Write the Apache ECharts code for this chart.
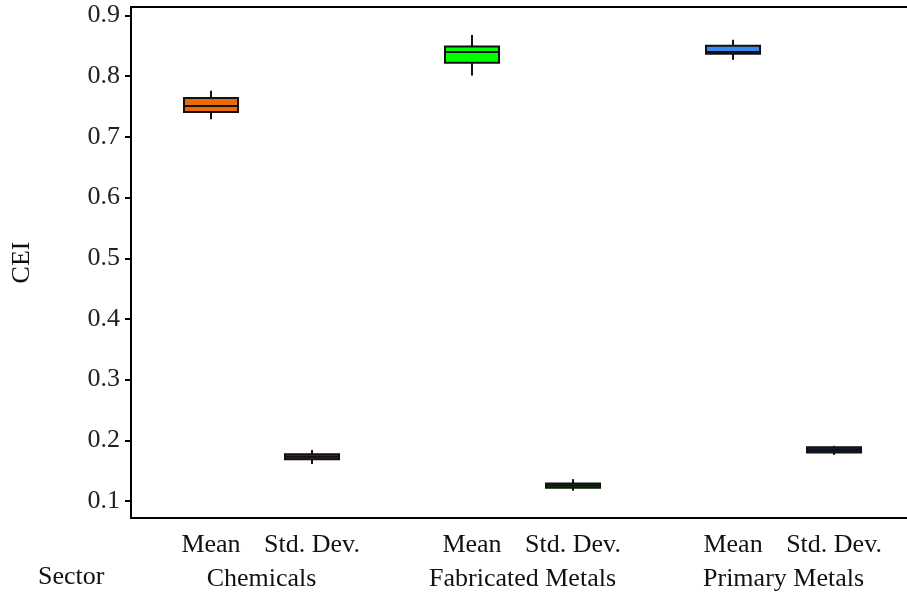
<!DOCTYPE html>
<html>
<head>
<meta charset="utf-8">
<script src="https://cdn.jsdelivr.net/npm/echarts@6/dist/echarts.min.js"></script>
<style>
  html, body { margin: 0; padding: 0; background: #fff; }
  #chart { width: 907px; height: 592px; }
</style>
</head>
<body>
<div id="chart"></div>
<script>
// Sector groups and the two statistics shown for each
const sectors = ['Chemicals', 'Fabricated Metals', 'Primary Metals'];
const stats = ['Mean', 'Std. Dev.'];

// Box summaries per sector: [min, q1, median, q3, max]
const meanBoxes = [
  [0.729, 0.741, 0.751, 0.764, 0.776],
  [0.801, 0.822, 0.840, 0.849, 0.868],
  [0.827, 0.837, 0.840, 0.850, 0.860]
];
const sdBoxes = [
  [0.161, 0.169, 0.173, 0.177, 0.184],
  [0.117, 0.122, 0.1256, 0.129, 0.136],
  [0.176, 0.180, 0.184, 0.1885, 0.191]
];

// Fill colours per sector
const meanColors = ['#EA6A0A', '#00FF00', '#3D88EE'];
const sdColors = ['#7A3A12', '#0B5E0B', '#0E1E44'];

// y-axis tick values
const yTicks = [0.1, 0.2, 0.3, 0.4, 0.5, 0.6, 0.7, 0.8, 0.9];

const dodge = 0.1935;
const boxWidth = 0.207;
const fontFamily = '"Liberation Serif", "DejaVu Serif", serif';
const fontSize = 26;

// Build box records: [x, min, q1, median, q3, max]
const boxData = [];
const statPositions = [];
const statNames = [];
sectors.forEach((s, i) => {
  const c = i + 1;
  boxData.push({ value: [c - dodge].concat(meanBoxes[i]), itemStyle: { color: meanColors[i] } });
  boxData.push({ value: [c + dodge].concat(sdBoxes[i]), itemStyle: { color: sdColors[i] } });
  statPositions.push(c - dodge, c + dodge);
  statNames.push(stats[0], stats[1]);
});
const sectorPositions = sectors.map((s, i) => i + 1);

function nearestLabel(value, positions, names) {
  let best = 0, dist = Infinity;
  positions.forEach((p, i) => {
    const d = Math.abs(p - value);
    if (d < dist) { dist = d; best = i; }
  });
  return names[best];
}

const chart = echarts.init(document.getElementById('chart'), null, { renderer: 'canvas' });

chart.setOption({
  animation: false,
  backgroundColor: '#ffffff',
  grid: { left: 131, right: 0, top: 7, bottom: 74, containLabel: false, outerBoundsMode: 'none' },
  xAxis: [
    {
      type: 'value', position: 'bottom', min: 0.5, max: 3.473,
      axisLine: { show: true, onZero: false, lineStyle: { color: '#000', width: 2 } },
      axisTick: { show: false },
      splitLine: { show: false },
      axisLabel: {
        customValues: statPositions,
        formatter: v => nearestLabel(v, statPositions, statNames),
        color: '#111', fontFamily, fontSize, margin: 14, showMinLabel: true, showMaxLabel: true
      }
    },
    {
      type: 'value', position: 'bottom', offset: 34, min: 0.5, max: 3.473,
      axisLine: { show: false },
      axisTick: { show: false },
      splitLine: { show: false },
      axisLabel: {
        customValues: sectorPositions,
        formatter: v => nearestLabel(v, sectorPositions, sectors),
        color: '#111', fontFamily, fontSize, margin: 14
      }
    },
    {
      type: 'value', position: 'top', min: 0.5, max: 3.473,
      axisLine: { show: true, lineStyle: { color: '#000', width: 2 } },
      axisTick: { show: false }, axisLabel: { show: false }, splitLine: { show: false }
    }
  ],
  yAxis: {
    type: 'value', min: 0.072, max: 0.914,
    name: 'CEI', nameLocation: 'middle', nameRotate: 90, nameGap: 96,
    nameTextStyle: { color: '#111', fontFamily, fontSize },
    axisLine: { show: true, onZero: false, lineStyle: { color: '#000', width: 2 } },
    axisTick: { show: true, length: 6, customValues: yTicks, lineStyle: { color: '#000', width: 2 } },
    splitLine: { show: false },
    axisLabel: {
      customValues: yTicks,
      formatter: v => (Math.round(v * 10) / 10).toFixed(1),
      color: '#222', fontFamily, fontSize, margin: 11
    }
  },
  graphic: [
    {
      type: 'text', left: 38, top: 564,
      style: { text: 'Sector', fill: '#111', font: fontSize + 'px ' + fontFamily }
    }
  ],
  series: [{
    type: 'custom',
    xAxisIndex: 0,
    encode: { x: 0, y: [1, 2, 3, 4, 5] },
    data: boxData,
    renderItem: function (params, api) {
      const x = api.value(0);
      const lo = api.coord([x, api.value(1)]);
      const q1 = api.coord([x, api.value(2)]);
      const med = api.coord([x, api.value(3)]);
      const q3 = api.coord([x, api.value(4)]);
      const hi = api.coord([x, api.value(5)]);
      const w = api.size([boxWidth, 0])[0];
      const fill = api.visual('color');
      const left = q1[0] - w / 2;
      const line = { stroke: '#111', lineWidth: 2 };
      return {
        type: 'group',
        children: [
          { type: 'line', shape: { x1: hi[0], y1: hi[1], x2: q3[0], y2: q3[1] }, style: line },
          { type: 'line', shape: { x1: q1[0], y1: q1[1], x2: lo[0], y2: lo[1] }, style: line },
          { type: 'rect', shape: { x: left, y: q3[1], width: w, height: q1[1] - q3[1] },
            style: { fill: fill, stroke: '#111', lineWidth: 2 } },
          { type: 'line', shape: { x1: left, y1: med[1], x2: left + w, y2: med[1] }, style: line }
        ]
      };
    }
  }]
});
</script>
</body>
</html>
